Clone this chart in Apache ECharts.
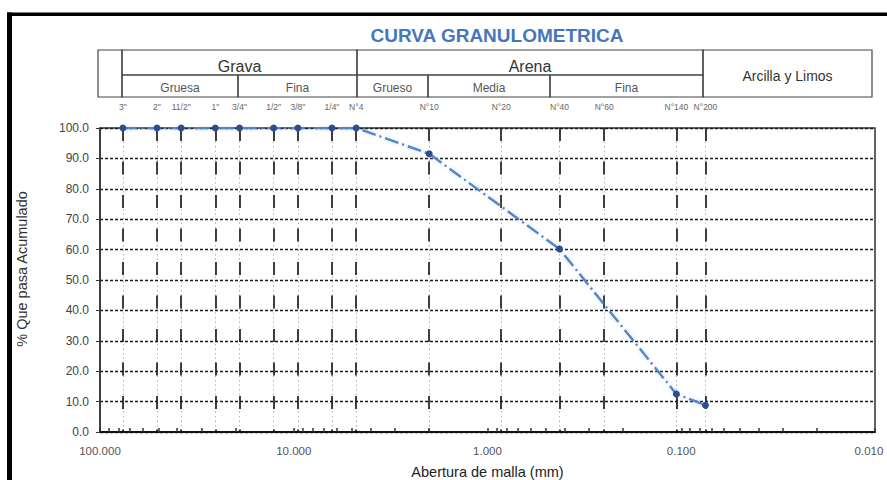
<!DOCTYPE html>
<html>
<head>
<meta charset="utf-8">
<title>Curva granulométrica</title>
<script src="https://cdn.jsdelivr.net/npm/echarts@6/dist/echarts.min.js"></script>
<style>
  html, body { margin: 0; padding: 0; background: #ffffff; }
  #chart { width: 887px; height: 480px; }
</style>
</head>
<body>
<div id="chart"></div>
<script>
// Sieve series (name and opening in mm) shown along the top of the plot
const sieveNames = ['3"', '2"', '11/2"', '1"', '3/4"', '1/2"', '3/8"', '1/4"', 'N°4', 'N°10', 'N°20', 'N°40', 'N°60', 'N°140', 'N°200'];
const sieveSizes = [76.2, 50.8, 38.1, 25.4, 19.05, 12.7, 9.525, 6.35, 4.76, 2.0, 0.85, 0.425, 0.25, 0.106, 0.075];

// Measured results: sieve opening (mm) and cumulative % passing
const testSizes = [76.2, 50.8, 38.1, 25.4, 19.05, 12.7, 9.525, 6.35, 4.76, 2.0, 0.425, 0.106, 0.075];
const percentPassing = [100, 100, 100, 100, 100, 100, 100, 100, 100, 91.5, 60.2, 12.5, 8.8];

// Labelled decades on the opening axis
const decadeLabels = [100, 10, 1, 0.1, 0.01];

// Minor log ticks (2..9 within each decade)
const minorTickValues = [];
[10, 1, 0.1, 0.01].forEach(function (d) {
  for (let k = 1; k <= 9; k++) minorTickValues.push(+(d * k).toPrecision(6));
});
minorTickValues.push(100);

const FONT = '"Liberation Sans", Arial, sans-serif';

function sieveName(v) {
  let best = 0, bestD = Infinity;
  sieveSizes.forEach(function (s, i) {
    const d = Math.abs(Math.log10(s) - Math.log10(v));
    if (d < bestD) { bestD = d; best = i; }
  });
  return sieveNames[best];
}

// Decade labels with three decimals; the right-most one is nudged inside the canvas
function decadeLabel(v) {
  const t = Number(v).toFixed(3);
  return Number(v) < 0.05 ? '{edge|' + t + '}' : t;
}

// Classification header (pixel layout of the table above the plot)
const headerCells = [
  { x0: 98,  x1: 122, y0: 50, y1: 97, text: '' },
  { x0: 122, x1: 357, y0: 50, y1: 75, text: 'Grava', size: 16, color: '#333', dy: 4 },
  { x0: 357, x1: 703, y0: 50, y1: 75, text: 'Arena', size: 16, color: '#333', dy: 4 },
  { x0: 703, x1: 872, y0: 50, y1: 97, text: 'Arcilla y Limos', size: 14, color: '#333', dy: 2 },
  { x0: 122, x1: 238, y0: 75, y1: 97, text: 'Gruesa', size: 12, color: '#555', dy: 2 },
  { x0: 238, x1: 357, y0: 75, y1: 97, text: 'Fina', size: 12, color: '#555', dy: 2 },
  { x0: 357, x1: 428, y0: 75, y1: 97, text: 'Grueso', size: 12, color: '#555', dy: 2 },
  { x0: 428, x1: 550, y0: 75, y1: 97, text: 'Media', size: 12, color: '#555', dy: 2 },
  { x0: 550, x1: 703, y0: 75, y1: 97, text: 'Fina', size: 12, color: '#555', dy: 2 }
];

const graphics = [
  // outer frame (top and left bars)
  { type: 'rect', shape: { x: 7, y: 12.5, width: 880, height: 3.5 }, style: { fill: '#000' }, silent: true },
  { type: 'rect', shape: { x: 7, y: 12.5, width: 5, height: 470 }, style: { fill: '#000' }, silent: true },
  // title
  { type: 'text', x: 497, y: 35, style: { text: 'CURVA GRANULOMETRICA', fill: '#4776bb', font: 'bold 19px ' + FONT, align: 'center', verticalAlign: 'middle' } }
];
headerCells.forEach(function (c) {
  graphics.push({
    type: 'rect',
    shape: { x: c.x0, y: c.y0, width: c.x1 - c.x0, height: c.y1 - c.y0 },
    style: { fill: 'none', stroke: '#444', lineWidth: 1.2 },
    silent: true
  });
  if (c.text) {
    graphics.push({
      type: 'text',
      x: (c.x0 + c.x1) / 2,
      y: (c.y0 + c.y1) / 2 + c.dy,
      style: { text: c.text, fill: c.color, font: c.size + 'px ' + FONT, align: 'center', verticalAlign: 'middle' }
    });
  }
});

const logAxisBase = { type: 'log', logBase: 10, min: 0.01, max: 100, inverse: true, gridIndex: 0 };

const chart = echarts.init(document.getElementById('chart'), null, { renderer: 'svg' });
chart.setOption({
  animation: false,
  backgroundColor: '#ffffff',
  textStyle: { fontFamily: FONT },
  grid: {
    left: 100, right: 12, top: 128, bottom: 48,
    show: true, borderColor: '#333', borderWidth: 1.5,
    containLabel: false, outerBoundsMode: 'none'
  },
  graphic: graphics,
  xAxis: [
    Object.assign({}, logAxisBase, {
      position: 'bottom',
      name: 'Abertura de malla (mm)',
      nameLocation: 'middle',
      nameGap: 32,
      nameTextStyle: { fontSize: 14.5, color: '#222' },
      axisLine: { show: true, lineStyle: { color: '#111', width: 2 } },
      axisTick: { show: true, inside: true, length: 4, customValues: minorTickValues, lineStyle: { color: '#333', width: 1.5 } },
      axisLabel: {
        customValues: decadeLabels, formatter: decadeLabel, fontSize: 11.5, color: '#555', margin: 13,
        rich: { edge: { fontSize: 11.5, color: '#555', padding: [0, 12, 0, 0] } }
      },
      splitLine: { show: false },
      minorTick: { show: false }
    }),
    Object.assign({}, logAxisBase, {
      position: 'top',
      axisLine: { show: false },
      axisTick: { show: false, customValues: sieveSizes },
      axisLabel: { customValues: sieveSizes, interval: 0, formatter: sieveName, fontSize: 8.5, color: '#666', margin: 17 },
      splitLine: { show: true, lineStyle: { color: '#b5b5b5', type: [1.5, 3], width: 1 } }
    }),
    Object.assign({}, logAxisBase, {
      position: 'top',
      axisLine: { show: false },
      axisTick: { show: false, customValues: sieveSizes },
      axisLabel: { show: false },
      splitLine: { show: true, lineStyle: { color: '#111', type: [13, 20.5], width: 1.6 } }
    })
  ],
  yAxis: {
    type: 'value',
    min: 0,
    max: 100,
    interval: 10,
    name: '% Que pasa Acumulado',
    nameLocation: 'middle',
    nameGap: 71,
    nameRotate: 90,
    nameTextStyle: { fontSize: 14.5, color: '#333', padding: [0, 0, 0, 22] },
    axisLine: { show: true, lineStyle: { color: '#333', width: 1.5 } },
    axisTick: { show: true, length: 4, lineStyle: { color: '#333' } },
    axisLabel: { formatter: function (v) { return v.toFixed(1); }, fontSize: 12, color: '#444', margin: 11 },
    splitLine: { show: true, lineStyle: { color: '#1a1a1a', type: [3, 2], width: 1.3 } }
  },
  series: [{
    type: 'line',
    xAxisIndex: 0,
    data: testSizes.map(function (s, i) { return [s, percentPassing[i]]; }),
    symbol: 'circle',
    symbolSize: 7,
    z: 5,
    lineStyle: { color: '#5585c2', width: 2.4, type: [14, 4, 2, 4], shadowColor: 'rgba(140,185,235,0.45)', shadowBlur: 4 },
    itemStyle: { color: '#2e4d8f' }
  }]
});
</script>
</body>
</html>
